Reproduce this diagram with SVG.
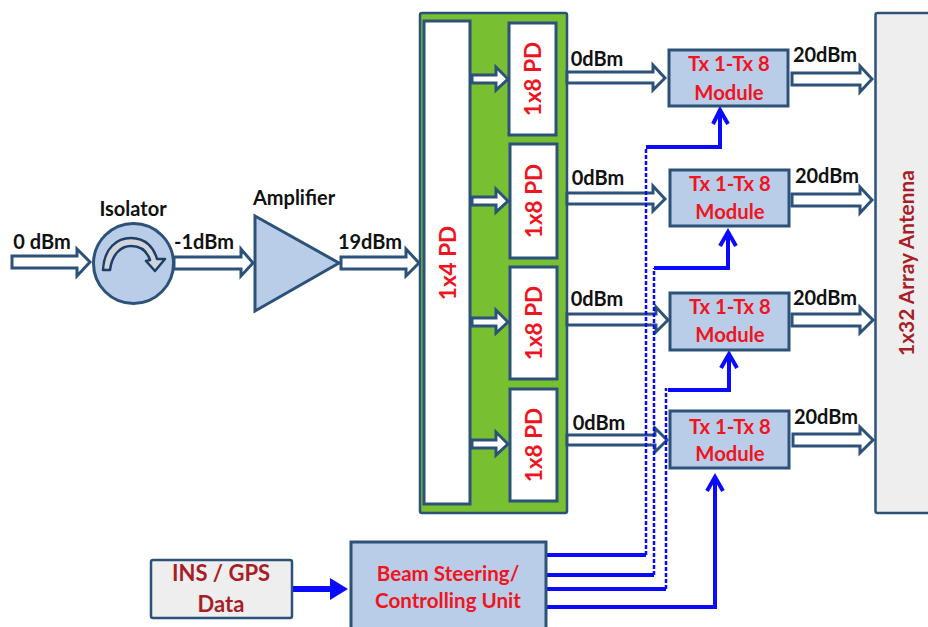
<svg xmlns="http://www.w3.org/2000/svg" width="928" height="627" viewBox="0 0 928 627">
<defs>
<style>
text{font-family:Lato,"Open Sans","Liberation Sans",sans-serif;font-weight:700;text-anchor:middle}
.box{fill:#b9cde9;stroke:#2c5279;stroke-width:3}
.wht{fill:#fff;stroke:#2c5279;stroke-width:3}
.arr{fill:#fff;stroke:#2c5279;stroke-width:3}
.lbl{font-size:20px;fill:#111}
.red{font-size:22.500px;fill:#f0141e}
.mod{font-size:20.300px;fill:#f0141e}
.bsu{font-size:20.600px;fill:#f0141e}
.drk{font-size:22px;fill:#a81e28}
.sol{fill:none;stroke:#0a0aff;stroke-width:4}
.dsh{fill:none;stroke:#0a0aff;stroke-width:2.500;stroke-dasharray:4 2}
</style>
</defs>
<rect width="928" height="627" fill="#fff"/>
<g id="antenna"><rect x="875.500" y="13" width="60" height="500" rx="2" fill="#eeeeee" stroke="#2c5279" stroke-width="2.500"/>
<text transform="translate(914,263) rotate(-90)" style="font-size:20.900px;fill:#a81e28">1x32 Array Antenna</text></g>
<g id="pd-panel"><rect x="420" y="13" width="147" height="500" rx="2" fill="#78bf32" stroke="#2c5279" stroke-width="2.500"/></g>
<g id="pd-1x4"><rect x="424" y="21" width="46" height="483" class="wht"/>
<text class="red" transform="translate(456,263) rotate(-90)">1x4 PD</text></g>
<g id="pd-1"><rect x="509" y="23" width="47" height="112" class="wht"/><text class="red" transform="translate(541,79) rotate(-90)">1x8 PD</text></g>
<g id="pd-2"><rect x="510" y="144" width="47" height="114" class="wht"/><text class="red" transform="translate(542,201) rotate(-90)">1x8 PD</text></g>
<g id="pd-3"><rect x="510" y="267" width="47" height="112" class="wht"/><text class="red" transform="translate(542,323) rotate(-90)">1x8 PD</text></g>
<g id="pd-4"><rect x="510" y="389" width="47" height="112" class="wht"/><text class="red" transform="translate(542,445) rotate(-90)">1x8 PD</text></g>
<g id="connectors">
<polygon class="arr" points="12,256 77,256 77,249 90,262 77,276 77,268 12,268"/>
<polygon class="arr" points="174,257 241,257 241,249 253,263 241,276 241,269 174,269"/>
<polygon class="arr" points="341,257 406,257 406,249 419,263 406,276 406,269 341,269"/>
<polygon class="arr" points="472,75 496,75 496,67 508,79 496,90 496,83 472,83"/>
<polygon class="arr" points="472,197 496,197 496,189 508,201 496,212 496,205 472,205"/>
<polygon class="arr" points="472,318 496,318 496,310 508,322 496,333 496,326 472,326"/>
<polygon class="arr" points="472,440 496,440 496,432 508,444 496,455 496,448 472,448"/>
<polygon class="arr" points="567,72 653,72 653,65 665,78 653,90 653,83 567,83"/>
<polygon class="arr" points="567,193 653,193 653,186 665,199 653,211 653,204 567,204"/>
<polygon class="arr" points="567,314 656,314 656,307 668,320 656,332 656,325 567,325"/>
<polygon class="arr" points="567,435 655,435 655,428 667,440 655,452 655,445 567,445"/>
<polygon class="arr" points="792,73 860,73 860,66 872,79 860,92 860,85 792,85"/>
<polygon class="arr" points="792,194 860,194 860,187 872,200 860,213 860,206 792,206"/>
<polygon class="arr" points="792,314 860,314 860,307 873,320 860,333 860,326 792,326"/>
<polygon class="arr" points="793,434 860,434 860,427 873,440 860,453 860,446 793,446"/>
<path class="sol" d="M546 555H646M646 147H720V110M713 124L720 110L728 124"/>
<path class="dsh" d="M646 555V147"/>
<path class="sol" d="M546 575H654M654 268H728V232M720 246L728 232L736 246"/>
<path class="dsh" d="M654 575V268"/>
<path class="sol" d="M546 589H666M668 390H729V354M721 368L729 354L737 368"/>
<path class="dsh" d="M666 589V388"/>
<path class="sol" d="M546 607H715V477M707 491L715 477L723 491"/>
<path d="M292 589H332" fill="none" stroke="#0a0aff" stroke-width="6"/>
<polygon points="330,578 348,589 330,600" fill="#0a0aff"/>
</g>
<g id="isolator"><circle cx="133.500" cy="263.500" r="40" class="box"/>
<path d="M103 270C104 248 117 238 131 238C146 238 154 248 157 259L165 259L155 271L146 261L150 260C147 251 141 246 131 246C121 246 112 254 110 270Z" fill="#d0d4dc" stroke="#1d3f63" stroke-width="2.500" stroke-linejoin="round"/>
<text class="lbl" x="133" y="216">Isolator</text></g>
<g id="amplifier"><polygon points="255,216 339,263 255,311" class="box"/><text class="lbl" x="294" y="205">Amplifier</text></g>
<g id="module-1"><rect x="669" y="50" width="119" height="56" class="box"/><text class="mod" x="729" y="71">Tx 1-Tx 8</text><text class="mod" x="729" y="100">Module</text></g>
<g id="module-2"><rect x="670" y="170" width="119" height="56" class="box"/><text class="mod" x="730" y="191">Tx 1-Tx 8</text><text class="mod" x="730" y="219">Module</text></g>
<g id="module-3"><rect x="670" y="293" width="119" height="57" class="box"/><text class="mod" x="730" y="314">Tx 1-Tx 8</text><text class="mod" x="730" y="342">Module</text></g>
<g id="module-4"><rect x="670" y="411" width="119" height="57" class="box"/><text class="mod" x="730" y="434">Tx 1-Tx 8</text><text class="mod" x="730" y="461">Module</text></g>
<g id="ins-gps"><rect x="151" y="560" width="141" height="58" rx="2" fill="#eeeeee" stroke="#2c5279" stroke-width="2.500"/><text class="drk" x="221" y="581">INS / GPS</text><text class="drk" x="221" y="612">Data</text></g>
<g id="beam-unit"><rect x="351" y="542" width="195" height="100" class="box"/><text class="bsu" x="448" y="581">Beam Steering/</text><text class="bsu" x="448" y="608">Controlling Unit</text></g>
<g id="labels">
<text class="lbl" x="42" y="249">0 dBm</text>
<text class="lbl" x="204" y="249">-1dBm</text>
<text class="lbl" x="370" y="249">19dBm</text>
<text class="lbl" x="597" y="66">0dBm</text>
<text class="lbl" x="598" y="185">0dBm</text>
<text class="lbl" x="597" y="306">0dBm</text>
<text class="lbl" x="599" y="430">0dBm</text>
<text class="lbl" x="825" y="62">20dBm</text>
<text class="lbl" x="827" y="183">20dBm</text>
<text class="lbl" x="825" y="305">20dBm</text>
<text class="lbl" x="826" y="424">20dBm</text>
</g>
</svg>
